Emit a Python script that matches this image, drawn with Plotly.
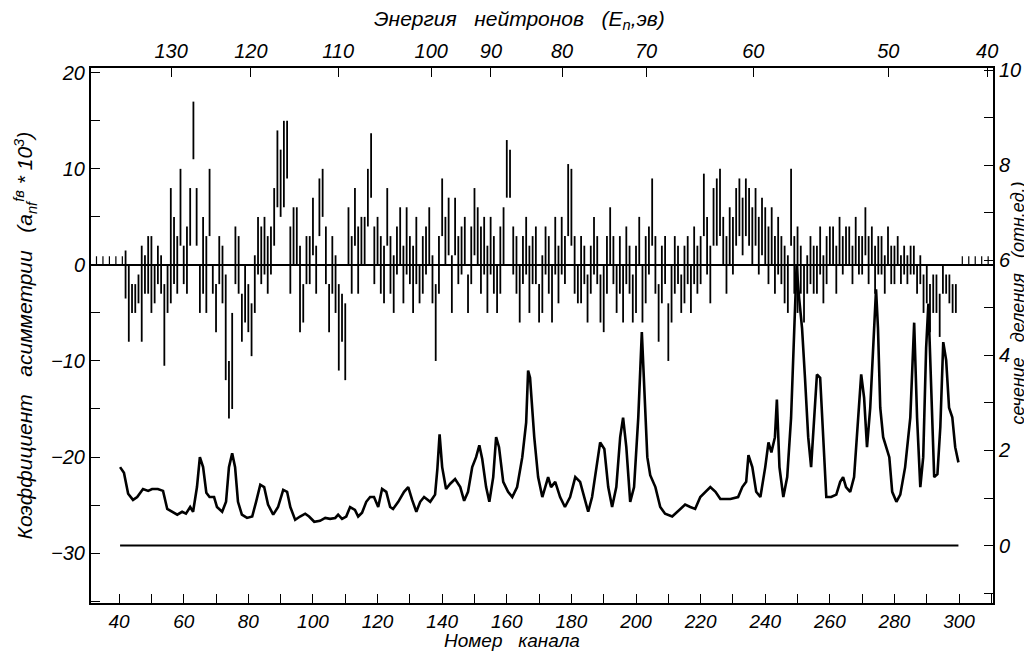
import plotly.graph_objects as go

# ---------------- data ----------------
# fission cross-section curve (right axis, relative units)
cs_channel = [40.3, 41.5, 42.8, 44.3, 45.6, 47.4, 49, 50.2, 52, 53.6, 54.9, 56.4, 58, 59.5, 60.7, 62, 62.9,
              64.1, 65, 66, 67, 68, 69.4, 70.3, 71.9, 73.1, 74, 75, 75.9, 76.8, 78, 79.6, 81.2, 82.4, 83.7,
              84.9, 86.1, 87.7, 89.2, 90.8, 92, 93, 94.5, 96, 97.6, 98.8, 100.4, 102.2, 103.8, 105.3, 106.9,
              107.8, 109, 110.3, 111.5, 113, 114, 115.2, 116.5, 117.7, 118.9, 120.2, 121.4, 122.7, 123.9,
              124.8, 126.4, 128.2, 129.5, 130.7, 132, 133.2, 134.4, 136.3, 137.8, 138.5, 139.2, 140, 141.2,
              142.5, 144, 145.6, 146.8, 148, 149.3, 150.5, 151.5, 152.4, 153.6, 154.6, 155.8, 156.7, 157.6,
              158.9, 160.4, 161.7, 163.2, 164.8, 166, 166.6, 167.2, 168.5, 169.7, 171, 171.9, 172.8, 173.7,
              175, 176.5, 178, 179.6, 181.2, 182.7, 184, 185.2, 186.4, 187.7, 188.9, 190.2, 191.4, 192.6,
              193.9, 195.1, 196, 197, 198.2, 199.4, 200.7, 201.8, 202.5, 203.5, 204.4, 206, 207.5, 209,
              211.2, 213.7, 215.2, 216.8, 218.3, 219.9, 221.4, 223, 224.6, 226.1, 229.2, 231.6, 232.9, 234.1,
              234.8, 236, 237.2, 238.5, 240, 241, 241.9, 243, 243.6, 244.4, 245.6, 246.8, 248, 249, 249.7,
              250.5, 251.4, 252.3, 253.3, 254.2, 255.2, 256, 257, 258, 258.9, 260.4, 262, 263.2, 264.1, 265,
              266.3, 267.5, 268.8, 269.7, 270.6, 271.5, 272.5, 273.7, 274.3, 274.9, 275.6, 276.5, 277.5,
              278.4, 279.3, 280.6, 281.8, 283.3, 284.9, 286.1, 287, 288, 288.9, 289.8, 290.5, 291.4, 292.3,
              293.3, 294.2, 295.1, 296, 296.9, 297.9, 298.8, 299.8]
cs_value = [1.65, 1.53, 1.09, 0.96, 1.02, 1.19, 1.15, 1.19, 1.19, 1.15, 0.77, 0.71, 0.65, 0.71, 0.67, 0.81, 0.71,
            1.23, 1.86, 1.65, 1.11, 1.02, 1.02, 0.81, 0.71, 0.92, 1.65, 1.94, 1.65, 0.92, 0.65, 0.58, 0.61, 0.92, 1.28,
            1.23, 0.86, 0.65, 0.81, 1.17, 1.13, 0.81, 0.54, 0.61, 0.67, 0.61, 0.50, 0.52, 0.58, 0.56, 0.58,
            0.65, 0.56, 0.61, 0.81, 0.75, 0.61, 0.69, 0.92, 1.02, 1.02, 0.81, 1.19, 1.13, 0.81,
            0.77, 0.92, 1.13, 1.23, 0.96, 0.71, 0.92, 1.02, 0.92, 1.07, 1.60, 2.34, 1.65, 1.19,
            1.30, 1.40, 1.23, 0.94, 1.13, 1.65, 1.86, 2.11, 1.82, 1.23, 0.92, 1.44, 2.28, 2.07,
            1.34, 1.13, 1.02, 1.23, 1.86, 2.59, 3.68, 3.53, 2.28, 1.44, 1.02, 1.23, 1.44, 1.23,
            1.34, 1.02, 0.81, 1.02, 1.44, 1.34, 1.02, 0.71, 1.02, 1.65, 2.17, 2.03, 1.23, 0.81,
            1.23, 2.28, 2.69, 2.07, 0.92, 1.23, 2.69, 4.49, 3.32, 1.86, 1.48, 1.23, 0.81, 0.67,
            0.61, 0.77, 0.86, 0.81, 0.77, 1.02, 1.13, 1.23, 1.13, 0.98, 0.98, 1.02, 1.23, 1.34,
            1.90, 1.65, 1.13, 1.02, 1.65, 2.17, 1.96, 2.28, 3.07, 1.65, 1.02, 1.44, 2.69, 4.57, 5.90,
            5.20, 4.57, 3.53, 2.28, 1.65, 2.69, 3.60, 3.53, 2.28, 1.02, 1.02, 1.07, 1.34, 1.44, 1.23,
            1.13, 1.44, 2.69, 3.60, 3.11, 2.07, 2.90, 4.78, 5.39, 4.57, 2.90, 2.28, 2.07,
            1.86, 1.13, 0.92, 1.07, 1.65, 2.69, 4.69, 2.69, 1.23, 1.86, 4.16, 5.09, 3.11, 1.44,
            1.50, 2.50, 4.28, 3.90, 2.90, 2.70, 2.07, 1.75]

# asymmetry coefficient (left axis, x10^3): value and half-length of the error bar, channels 42..299
asym_channel = list(range(42, 300))
asym_value = [-1, -4, -3.5, -3.5, -2.5, -3, -1, 0, -1, -2, 0, -1, -6.25, -2.5, 2, 1.5, 0, 6, 0, 0.5, 5, 14,
              5, -2.5, 1, -1, 6.5, -1.5, -4.5, 0.5, -1, -6.5, -13, -10, 1, 0, -5.5, -3, -4.5, -6.75, -2, 2,
              1, 2, 0, 1.5, 5, 10, 8.5, 10.5, 12, 0.5, 3, 3, -2.5, -4, 0.5, 0.5, 4, -0.5, 6, 7.5,
              1, -4.5, 0, -2, -6.5, -5.5, -8, 3, 0, 5, 0.5, 2.5, 2.5, 7, 10.35, 1, 2.5, 0, -1, 5,
              0, -2, 1.5, 3, -1, 2.5, 0.5, -1.5, 1.5, -2, 0, 1.5, 3, -1.5, -6, 0, 6, 2.5, 4, -2,
              4, 0.5, 1.5, 2.5, -3, 1, 4.5, 3, 0.5, 2, -1.5, 2, 0, -2.5, 0.5, 3, 10, 9.5, 1.5, 0,
              -3, 0.5, 2, -1.5, 0.5, 1, -4, -2, 1.5, 0, -3, 2, -1, 2, 0.5, 6.75, 6, 0, -2, -0.5,
              0, -3.5, -0.5, 2, 0.5, -3.5, -3.5, 0, 3, 0.5, -2.5, 0, -3, 1, -0.5, -3.5, -1.5, 2.5, -3,
              -0.5, 1.5, 5.5, 0, -5, -1, 0.5, -7, -3, 0, 0, -3, -1, 0.5, -2.5, 1, -0.5, 0.5, 6.25, 2,
              -1, 5, 5.5, 6.5, 2.5, 0, 3, 2, 5, 6, 4, 6, 5, 3, 5, 2, 4, 3, 1, 3, 0, 2, 0.5, -1,
              -2, 6, 0, -0.5, -0.5, -3, -1, 0.5, -0.5, -0.5, 1.5, -1.5, 0.5, 2, 2, -0.5, 2.5, 1, 2, 2,
              0, 2.5, 1, 1, 3.5, 0.5, 2, -0.5, 1, 1, -1, 2, 0, 0, 1.5, -0.5, 0.5, -0.5, 0.5, 0.5,
              -1.5, -0.5, -3, -2, -4.5, -3, -3, -5.25, -1.5, -2, -2.5, -3.5, -3.5]
asym_error = [2.5, 4, 1.5, 1.5, 1.5, 5, 2, 3, 4, 2, 2, 2, 4.25, 2.5, 6, 3.5, 3, 4, 2, 3.5, 3, 3,
              3, 2.5, 4, 4, 3.5, 1.5, 2.5, 2.5, 3, 5.5, 3, 5, 3, 3, 2.5, 3, 2.5, 2.75, 3, 3,
              3, 3, 3, 2.5, 3, 4, 3.5, 4.5, 3, 3.5, 3, 3, 4.5, 2, 2.5, 2.5, 3, 2.5, 3, 2.5,
              3, 2.5, 3, 3, 4.5, 2.5, 4, 3, 3, 3, 3.5, 2.5, 2.5, 3, 3.35, 3, 2.5, 3, 3, 3,
              3, 3, 2.5, 3, 3, 3.5, 2.5, 3.5, 3.5, 2, 3, 2.5, 3, 2.5, 4, 3, 3, 2.5, 3, 3,
              3, 2.5, 2.5, 2.5, 2, 3, 3.5, 3, 3.5, 3, 3.5, 3, 3, 2.5, 3.5, 3, 3, 2.5, 2.5, 3,
              3, 2.5, 3, 3.5, 2.5, 3, 2, 3, 2.5, 3, 3, 3, 3, 3, 2.5, 3.75, 4, 3, 2, 3.5,
              2, 2.5, 2.5, 3, 2.5, 2.5, 3.5, 3, 3, 2.5, 2.5, 3, 3, 3, 2.5, 2.5, 3.5, 2.5, 3,
              3.5, 2.5, 3.5, 3, 3, 3, 2.5, 3, 3, 3, 2, 2, 3, 2.5, 2.5, 3, 2.5, 2.5, 3.25, 3,
              3, 3, 3.5, 3.5, 2.5, 3, 3, 3, 3, 3, 3, 3, 3, 3, 3, 3, 3, 3, 3, 3, 3, 3, 2.5, 3,
              3, 4, 3, 4.5, 2.5, 3, 2, 2.5, 2.5, 2.5, 2.5, 2.5, 2.5, 2, 2, 2.5, 2.5, 2, 2, 2,
              2, 2.5, 2, 2, 2.5, 2.5, 2, 2.5, 2, 2, 2, 2, 2, 2, 1.5, 1.5, 1.5, 1.5, 1.5, 1.5,
              1.5, 1.5, 2, 2, 2.5, 2, 2, 2.25, 1.5, 1, 1.5, 1.5, 1.5]

# small marks along the zero line outside the measured range
zero_mark_channels = [33, 35, 37, 39, 41, 301, 303, 305, 307, 309]

# bottom axis ticks (channel number)
channel_ticks = [40, 60, 80, 100, 120, 140, 160, 180, 200, 220, 240, 260, 280, 300]
# top axis: neutron energy labels and the channel positions where they fall
energy_labels = ["130", "120", "110", "100", "90", "80", "70", "60", "50", "40"]
energy_tick_channels = [56.1, 80.8, 107.8, 136.6, 155.1, 177.1, 203.1, 236.3, 278.1, 308.7]

# ---------------- figure ----------------
FONT = "Liberation Sans, Arial, sans-serif"
font_it = dict(family=FONT, size=20, color="black", style="italic")
font_xt = dict(family=FONT, size=19, color="black", style="italic")
font_title = dict(family=FONT, size=21, color="black", style="italic")
font_btitle = dict(family=FONT, size=19, color="black", style="italic")
font_rtitle = dict(family=FONT, size=18, color="black", style="italic")

fig = go.Figure()

fig.add_trace(go.Scatter(
    x=asym_channel, y=asym_value, mode="markers",
    marker=dict(size=1, color="rgba(0,0,0,0)"),
    error_y=dict(type="data", array=asym_error, symmetric=True, width=0, thickness=1.8, color="black"),
    xaxis="x", yaxis="y", showlegend=False, hoverinfo="x+y"))

fig.add_trace(go.Scatter(
    x=zero_mark_channels, y=[0.45] * len(zero_mark_channels), mode="markers",
    marker=dict(size=1, color="rgba(0,0,0,0)"),
    error_y=dict(type="data", array=[0.45] * len(zero_mark_channels), symmetric=True, width=0,
                 thickness=1.2, color="black"),
    xaxis="x", yaxis="y", showlegend=False, hoverinfo="skip"))

fig.add_trace(go.Scatter(
    x=cs_channel, y=cs_value, mode="lines",
    line=dict(color="black", width=2.6),
    xaxis="x", yaxis="y2", showlegend=False))

fig.add_trace(go.Scatter(
    x=[cs_channel[0], cs_channel[-1]], y=[0, 0], mode="lines",
    line=dict(color="black", width=1.8),
    xaxis="x", yaxis="y2", showlegend=False, hoverinfo="skip"))

# invisible trace so that the top energy axis is drawn
fig.add_trace(go.Scatter(
    x=[energy_tick_channels[0]], y=[0], mode="markers",
    marker=dict(size=1, color="rgba(0,0,0,0)"),
    xaxis="x2", yaxis="y", showlegend=False, hoverinfo="skip"))

fig.add_shape(type="line", xref="paper", yref="y", x0=0, x1=1, y0=0, y1=0,
              line=dict(color="black", width=2))

xr = [31.3, 310.5]
tick_common = dict(ticks="inside", ticklen=9, tickwidth=1.3, tickcolor="black", showline=True,
                   linecolor="black", linewidth=2, showgrid=False, zeroline=False,
                   automargin=False)
# the page body has an 8px margin, so the figure is 8px smaller than the window
fig.update_layout(
    width=1024, height=646,
    margin=dict(l=83, r=39, t=60, b=51),
    paper_bgcolor="white", plot_bgcolor="white",
    font=font_it,
    xaxis=dict(range=xr, tickvals=channel_ticks, tickfont=font_xt,
               minor=dict(dtick=10, tick0=30, ticks="inside", ticklen=9, tickwidth=1.3,
                          tickcolor="black", showgrid=False), **tick_common),
    xaxis2=dict(range=xr, overlaying="x", side="top", tickvals=energy_tick_channels,
                ticktext=energy_labels, tickfont=font_it, **tick_common),
    yaxis=dict(range=[-35.2, 20.5], tickvals=[-30, -20, -10, 0, 10, 20], tickfont=font_it,
               minor=dict(dtick=5, tick0=0, ticks="inside", ticklen=9, tickwidth=1.3,
                          tickcolor="black", showgrid=False), **tick_common),
    yaxis2=dict(range=[-1.21, 10.05], overlaying="y", side="right", tickvals=[0, 2, 4, 6, 8, 10],
                tickfont=font_it,
                minor=dict(dtick=1, tick0=0, ticks="inside", ticklen=9, tickwidth=1.3,
                           tickcolor="black", showgrid=False), **tick_common),
    annotations=[
        dict(text="Энергия   нейтронов   (E<sub>n</sub>,эв)", xref="paper", yref="paper",
             x=0.475, y=1, yshift=33, showarrow=False, font=font_title, xanchor="center",
             yanchor="bottom"),
        dict(text="Номер   канала", xref="paper", yref="paper", x=0.467, y=0, yshift=-25,
             showarrow=False, font=font_btitle, xanchor="center", yanchor="top"),
        dict(text="Коэффициент   асимметрии   (a<sub>nf</sub><sup>fв</sup> * 10<sup>3</sup>)",
             xref="paper", yref="paper", x=0, xshift=-66, y=0.5, showarrow=False, textangle=-90,
             font=font_title, xanchor="center", yanchor="middle"),
        dict(text="сечение   деления   (отн.ед.)", xref="paper", yref="paper", x=1, xshift=25,
             y=0.56, showarrow=False, textangle=-90, font=font_rtitle, xanchor="center",
             yanchor="middle"),
    ],
)

fig.write_html("out.html")
